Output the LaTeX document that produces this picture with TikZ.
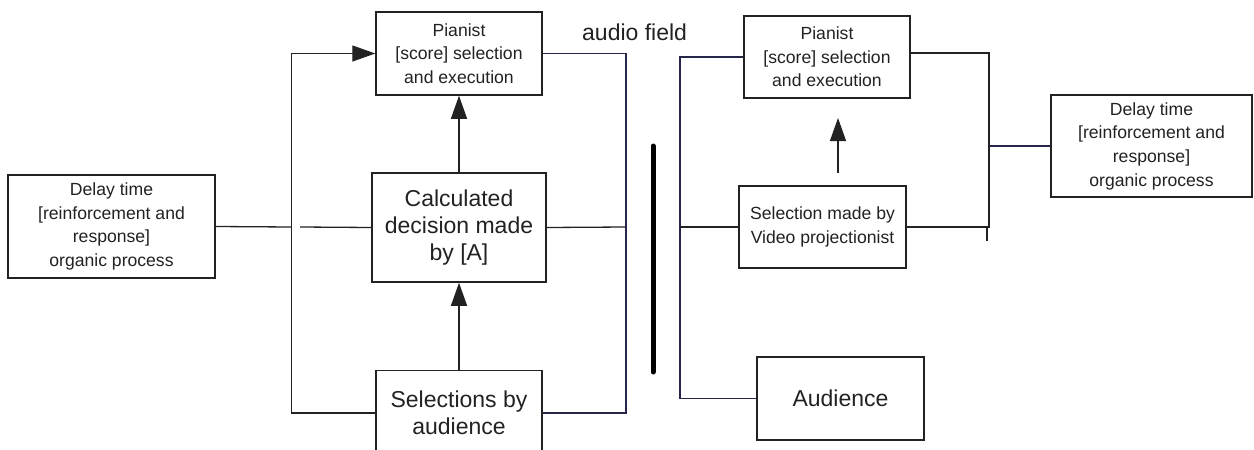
\documentclass[tikz,border=0pt]{standalone}
\usepackage{fontspec}
\setmainfont{Liberation Sans}
\usetikzlibrary{arrows.meta}
\definecolor{ink}{HTML}{222222}
\definecolor{navy}{HTML}{26264A}
\begin{document}
\begin{tikzpicture}[x=1pt,y=-1pt,
  box/.style={draw=ink, line width=1.5pt, inner sep=0pt, align=center, text=ink, fill=white},
  smalltxt/.style={font=\fontsize{17.6}{23.7}\selectfont},
  bigtxt/.style={font=\fontsize{23}{26.7}\selectfont},
  conn/.style={draw=ink, line width=1.3pt},
  navyconn/.style={draw=navy, line width=1.3pt},
  tip/.style={-{Triangle[length=23pt,width=16pt]}},
]
\useasboundingbox (0,0) rectangle (1254,450);
\fill[white] (0,0) rectangle (1254,450);
\clip (0,0) rectangle (1254,450);

% ---------- left group ----------
\node[box, smalltxt, minimum width=207pt, minimum height=103pt] (dL) at (111.5,226.5)
  {Delay time\\{[reinforcement and}\\response]\\organic process};
\node[box, smalltxt, minimum width=166pt, minimum height=83pt] (pL) at (459,53.5)
  {Pianist\\{[score]} selection\\and execution};
\node[box, bigtxt, minimum width=174pt, minimum height=109pt] (calc) at (459,227.5)
  {Calculated\\decision made\\by [A]};
\node[box, bigtxt, minimum width=166pt, minimum height=85pt] (sel) at (459,413)
  {Selections by\\audience};

\coordinate (lv) at (291.5,227);
\coordinate (gap) at (300,227);
\coordinate (rv) at (626,227);

\draw[conn] (dL.east) -- (lv);
\draw[conn] (gap) -- (calc.west);
\draw[conn, tip] (sel.west) -| (lv) |- (pL.west);
\draw[conn, tip] (calc.north) -- (pL.south);
\draw[conn, tip] (sel.north) -- (calc.south);
\draw[navyconn] (pL.east) -| (rv) |- (sel.east);
\draw[conn] (calc.east) -- (rv);

\node[bigtxt, text=ink, anchor=base west, inner sep=0pt] (af) at (582,40) {audio field};

% ---------- divider ----------
\coordinate (b1) at (653,146);
\coordinate (b2) at (653,372);
\draw[black, line width=5pt, line cap=round] (b1) -- (b2);

% ---------- right group ----------
\node[box, smalltxt, minimum width=166pt, minimum height=82pt] (pR) at (827,57)
  {Pianist\\{[score]} selection\\and execution};
\node[box, smalltxt, minimum width=167pt, minimum height=82pt] (sR) at (822.5,227)
  {Selection made by\\Video projectionist};
\node[box, bigtxt, minimum width=167pt, minimum height=83pt] (aud) at (840.5,398.5)
  {Audience};
\node[box, smalltxt, minimum width=201pt, minimum height=102pt] (dR) at (1151.5,146)
  {Delay time\\{[reinforcement and}\\response]\\organic process};

\coordinate (lv2) at (680,227);
\coordinate (rv2) at (989,146);
\coordinate (tk1) at (987,227);
\coordinate (tk2) at (987,241);
\coordinate (fa1) at (838,173);
\coordinate (fa2) at (838,118);

\draw[navyconn] (pR.west) -| (lv2) |- (aud.west);
\draw[conn] (lv2) -- (sR.west);
\draw[conn] ([yshift=4pt]pR.east) -| (rv2) |- (sR.east);
\draw[navyconn] (rv2) -- (dR.west);
\draw[conn] (tk1) -- (tk2);
\draw[conn, tip] (fa1) -- (fa2);
\end{tikzpicture}
\end{document}
